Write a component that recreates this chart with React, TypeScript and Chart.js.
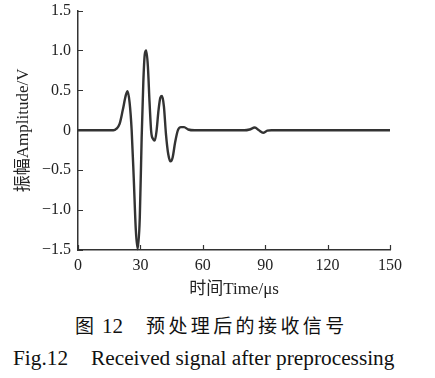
import React, { useEffect, useRef } from "react";
import { Chart, registerables } from "chart.js";

Chart.register(...registerables);

const timeUs: number[] = [
  0, 10, 17, 18.5, 20, 21.5, 23, 23.8, 24.8, 25.8, 26.8, 27.8, 28.7, 29.7, 30.6,
  31.4, 32.1, 32.8, 33.6, 34.4, 35.2, 36.1, 36.9, 37.8, 38.7, 39.6, 40.4, 41.3,
  42.3, 43.4, 44.5, 45.5, 46.7, 48, 49.5, 51, 53, 56, 80, 82.5, 85, 87, 89, 91,
  93, 150,
];
const amplitudeV: number[] = [
  0, 0, 0, 0.02, 0.08, 0.25, 0.44, 0.49, 0.35, 0, -0.6, -1.25, -1.49, -1.1, -0.1,
  0.6, 0.95, 1.0, 0.8, 0.35, -0.02, -0.11, -0.13, 0.0, 0.25, 0.41, 0.43, 0.3,
  -0.05, -0.3, -0.39, -0.34, -0.15, 0.0, 0.04, 0.04, 0.01, 0, 0, 0.01, 0.035, 0.0,
  -0.03, -0.005, 0, 0,
];
const xTicks: number[] = [0, 30, 60, 90, 120, 150];
const yTicks: number[] = [-1.5, -1.0, -0.5, 0, 0.5, 1.0, 1.5];

const FONT = "'Liberation Serif', 'Noto Sans CJK SC', serif";
const TXT = "#222";

function fmtY(v: number): string {
  if (Math.abs(v) < 1e-9) return "0";
  const s = Math.abs(v).toFixed(1);
  return v < 0 ? "\u2212" + s : s;
}

const innerTicks = {
  id: "innerTicks",
  afterDraw(chart: any) {
    const { ctx, chartArea, scales } = chart;
    ctx.save();
    ctx.strokeStyle = "#333";
    ctx.lineWidth = 1.2;
    ctx.beginPath();
    for (const v of yTicks) {
      const y = Math.round(scales.y.getPixelForValue(v)) + 0.5;
      ctx.moveTo(chartArea.left, y);
      ctx.lineTo(chartArea.left + 5, y);
    }
    for (const v of xTicks) {
      const x = Math.round(scales.x.getPixelForValue(v)) + 0.5;
      ctx.moveTo(x, chartArea.bottom);
      ctx.lineTo(x, chartArea.bottom - 5);
    }
    ctx.stroke();
    ctx.restore();
  },
};

export default function App() {
  const ref = useRef<HTMLCanvasElement | null>(null);

  useEffect(() => {
    document.body.style.margin = "0";
    const canvas = ref.current;
    if (!canvas) return;
    const chart = new Chart(canvas, {
      type: "line",
      data: {
        datasets: [
          {
            data: timeUs.map((t, i) => ({ x: t, y: amplitudeV[i] })),
            borderColor: "#333",
            borderWidth: 2.4,
            pointRadius: 0,
            cubicInterpolationMode: "monotone",
            fill: false,
            clip: false as any,
          },
        ],
      },
      options: {
        responsive: false,
        animation: false,
        events: [],
        layout: { padding: { left: 0, right: 45, top: 2, bottom: 0 } },
        plugins: { legend: { display: false }, tooltip: { enabled: false } },
        scales: {
          x: {
            type: "linear",
            min: 0,
            max: 150,
            afterBuildTicks: (s: any) => {
              s.ticks = xTicks.map((v) => ({ value: v }));
            },
            afterFit: (s: any) => {
              s.height = 50;
            },
            grid: { display: false, drawTicks: false },
            border: { display: true, color: "#333", width: 1.5 },
            ticks: {
              color: TXT,
              font: { family: FONT, size: 16 },
              padding: 6,
              maxRotation: 0,
              autoSkip: false,
            },
            title: {
              display: true,
              text: "时间Time/μs",
              color: TXT,
              font: { family: FONT, size: 17 },
              padding: { top: 1, bottom: 0 },
            },
          },
          y: {
            type: "linear",
            min: -1.5,
            max: 1.5,
            afterBuildTicks: (s: any) => {
              s.ticks = yTicks.map((v) => ({ value: v }));
            },
            afterFit: (s: any) => {
              s.width = 78;
            },
            grid: { display: false, drawTicks: false },
            border: { display: true, color: "#333", width: 1.5 },
            ticks: {
              color: TXT,
              font: { family: FONT, size: 16 },
              padding: 7,
              autoSkip: false,
              callback: (v: any) => fmtY(Number(v)),
            },
            title: {
              display: true,
              text: "振幅Amplitude/V",
              color: TXT,
              font: { family: FONT, size: 17 },
              padding: { top: 13, bottom: 0 },
            },
          },
        },
      },
      plugins: [innerTicks],
    });
    return () => chart.destroy();
  }, []);

  return (
    <div style={{ position: "relative", width: 435, height: 378, background: "#fff", color: "#111", overflow: "hidden" }}>
      <canvas ref={ref} width={435} height={306} style={{ position: "absolute", left: 0, top: -6 }} />
      <div
        style={{
          position: "absolute",
          left: 75,
          top: 317,
          whiteSpace: "nowrap",
          fontFamily: FONT,
          fontSize: 19,
          lineHeight: "19px",
        }}
      >
        <span>图</span>
        <span style={{ marginLeft: 8, fontSize: 21 }}>12</span>
        <span style={{ marginLeft: 23, letterSpacing: 3.4 }}>预处理后的接收信号</span>
      </div>
      <div
        style={{
          position: "absolute",
          left: 13,
          top: 348,
          whiteSpace: "nowrap",
          fontFamily: FONT,
          fontSize: 21.3,
          lineHeight: "21px",
        }}
      >
        <span>Fig.12</span>
        <span style={{ marginLeft: 23 }}>Received signal after preprocessing</span>
      </div>
    </div>
  );
}
